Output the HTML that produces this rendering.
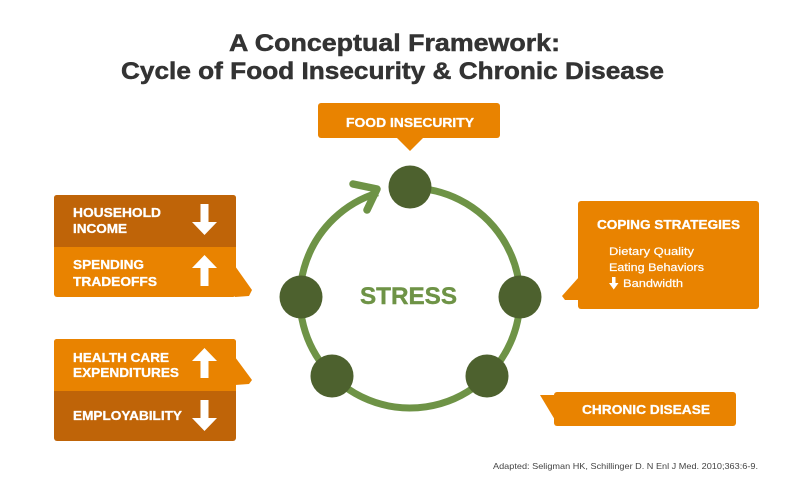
<!DOCTYPE html>
<html>
<head>
<meta charset="utf-8">
<style>
  html,body{margin:0;padding:0;background:#fff;}
  svg{display:block;}
  text{font-family:"Liberation Sans",Arial,sans-serif;}
</style>
</head>
<body>
<svg width="790" height="504" viewBox="0 0 790 504" xmlns="http://www.w3.org/2000/svg">
  <rect width="790" height="504" fill="#fff"/>

  <!-- Title -->
  <text x="229" y="51" font-size="24" font-weight="bold" fill="#333" stroke="#333" stroke-width="0.5" textLength="331" lengthAdjust="spacingAndGlyphs">A Conceptual Framework:</text>
  <text x="121" y="79" font-size="24" font-weight="bold" fill="#333" stroke="#333" stroke-width="0.5" textLength="543" lengthAdjust="spacingAndGlyphs">Cycle of Food Insecurity &amp; Chronic Disease</text>

  <!-- Food Insecurity box -->
  <rect x="318" y="103" width="182" height="35" rx="3" fill="#E98300"/>
  <polygon points="396,137 410,151 424,137" fill="#E98300"/>
  <text x="346" y="127" font-size="13" font-weight="bold" fill="#fff" stroke="#fff" stroke-width="0.3" textLength="128" lengthAdjust="spacingAndGlyphs">FOOD INSECURITY</text>

  <!-- Left top box -->
  <polygon points="235,266 252,290 249,296 235,297" fill="#E98300"/>
  <rect x="54" y="195" width="182" height="102" rx="3" fill="#E98300"/>
  <path d="M54,247 V198 Q54,195 57,195 H233 Q236,195 236,198 V247 Z" fill="#BF6408"/>
  <g fill="#fff" stroke="#fff" stroke-width="0.3" font-size="13" font-weight="bold">
  <text x="73" y="217" textLength="88" lengthAdjust="spacingAndGlyphs">HOUSEHOLD</text>
  <text x="73" y="233" textLength="54" lengthAdjust="spacingAndGlyphs">INCOME</text>
  <text x="73" y="269" textLength="71" lengthAdjust="spacingAndGlyphs">SPENDING</text>
  <text x="73" y="286" textLength="84" lengthAdjust="spacingAndGlyphs">TRADEOFFS</text>
  </g>
  <polygon points="200.5,204 208.5,204 208.5,222 217,222 204.5,235 192,222 200.5,222" fill="#fff"/>
  <polygon points="204.5,255 217,268 208.5,268 208.5,286 200.5,286 200.5,268 192,268" fill="#fff"/>

  <!-- Left bottom box -->
  <polygon points="235,357 252,380 249,384 235,385" fill="#E98300"/>
  <rect x="54" y="339" width="182" height="102" rx="3" fill="#BF6408"/>
  <path d="M54,391 V342 Q54,339 57,339 H233 Q236,339 236,342 V391 Z" fill="#E98300"/>
  <g fill="#fff" stroke="#fff" stroke-width="0.3" font-size="13" font-weight="bold">
  <text x="73" y="362" textLength="96" lengthAdjust="spacingAndGlyphs">HEALTH CARE</text>
  <text x="73" y="377" textLength="106" lengthAdjust="spacingAndGlyphs">EXPENDITURES</text>
  <text x="73" y="420" textLength="109" lengthAdjust="spacingAndGlyphs">EMPLOYABILITY</text>
  </g>
  <polygon points="204.5,348 217,361 208.5,361 208.5,378 200.5,378 200.5,361 192,361" fill="#fff"/>
  <polygon points="200.5,400 208.5,400 208.5,418 217,418 204.5,431 192,418 200.5,418" fill="#fff"/>

  <!-- Coping strategies box -->
  <polygon points="579,277 562,296 565,300 579,300" fill="#E98300"/>
  <rect x="578" y="201" width="181" height="108" rx="3" fill="#E98300"/>
  <text x="597" y="229" font-size="13" font-weight="bold" fill="#fff" stroke="#fff" stroke-width="0.3" textLength="143" lengthAdjust="spacingAndGlyphs">COPING STRATEGIES</text>
  <text x="609" y="255" font-size="11" fill="#fff" stroke="#fff" stroke-width="0.2" textLength="85" lengthAdjust="spacingAndGlyphs">Dietary Quality</text>
  <text x="609" y="271" font-size="11" fill="#fff" stroke="#fff" stroke-width="0.2" textLength="95" lengthAdjust="spacingAndGlyphs">Eating Behaviors</text>
  <polygon points="612,277 615.5,277 615.5,283 618.5,283 613.75,289.5 609,283 612,283" fill="#fff"/>
  <text x="623" y="287" font-size="11" fill="#fff" stroke="#fff" stroke-width="0.2" textLength="60" lengthAdjust="spacingAndGlyphs">Bandwidth</text>

  <!-- Chronic disease box -->
  <polygon points="540,395 555,395 555,420" fill="#E98300"/>
  <rect x="554" y="392" width="182" height="34" rx="3" fill="#E98300"/>
  <text x="582" y="414" font-size="13" font-weight="bold" fill="#fff" stroke="#fff" stroke-width="0.3" textLength="128" lengthAdjust="spacingAndGlyphs">CHRONIC DISEASE</text>

  <!-- Cycle ring -->
  <path d="M410,188 A110,110 0 1 1 377.8,192.8" fill="none" stroke="#6E9346" stroke-width="7"/>
  <polyline points="353,184 377,189 367,210" fill="none" stroke="#6E9346" stroke-width="7.5" stroke-linecap="round" stroke-linejoin="round"/>

  <!-- Nodes -->
  <circle cx="410" cy="187" r="21.5" fill="#4D612E"/>
  <circle cx="301" cy="297" r="21.5" fill="#4D612E"/>
  <circle cx="520" cy="297" r="21.5" fill="#4D612E"/>
  <circle cx="332" cy="376" r="21.5" fill="#4D612E"/>
  <circle cx="487" cy="376" r="21.5" fill="#4D612E"/>

  <text x="360" y="304" font-size="24" font-weight="bold" fill="#6E9346" stroke="#6E9346" stroke-width="0.4" textLength="97" lengthAdjust="spacingAndGlyphs">STRESS</text>

  <!-- Citation -->
  <text x="493" y="469" font-size="8.5" fill="#444" textLength="265" lengthAdjust="spacingAndGlyphs">Adapted: Seligman HK, Schillinger D. N Enl J Med. 2010;363:6-9.</text>
</svg>
</body>
</html>
